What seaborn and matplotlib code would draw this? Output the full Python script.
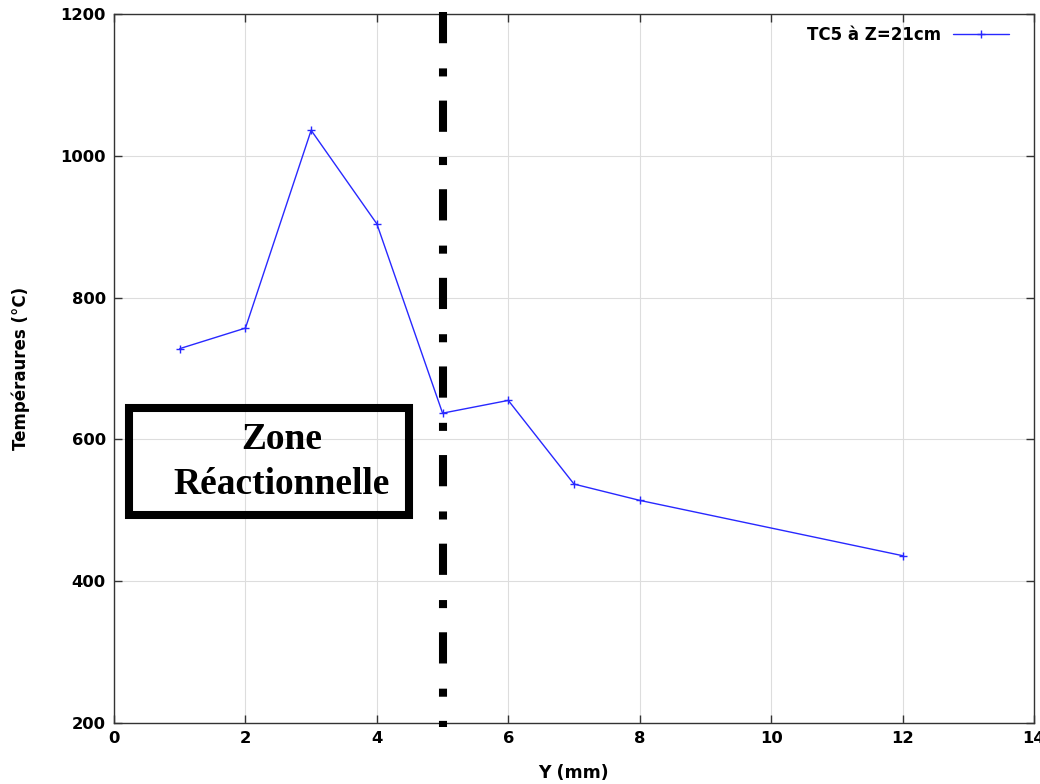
import matplotlib
matplotlib.use("Agg")
import matplotlib.pyplot as plt
import seaborn as sns
import pandas as pd
from matplotlib.patches import Rectangle

# Temperature profile along Y for thermocouple TC5
y_mm = [1, 2, 3, 4, 5, 6, 7, 8, 12]
temperatures = [728, 757, 1036, 904, 637, 655, 537, 514, 436]
series_label = "TC5 à Z=21cm"

x_ticks = [0, 2, 4, 6, 8, 10, 12, 14]
y_ticks = [200, 400, 600, 800, 1000, 1200]
boundary_y = 5

df = pd.DataFrame({"Y": y_mm, "T": temperatures})

sns.set_theme(style="white")
plt.rcParams["font.family"] = ["DejaVu Sans"]
plt.rcParams["text.color"] = "black"
plt.rcParams["xtick.color"] = "black"
plt.rcParams["ytick.color"] = "black"
plt.rcParams["axes.labelcolor"] = "black"

fig = plt.figure(figsize=(10.4, 7.84), dpi=100)
ax = fig.add_axes([114 / 1040, 1 - 723 / 784, 920 / 1040, 709 / 784])

sns.lineplot(data=df, x="Y", y="T", ax=ax, color="#2828ff", linewidth=1.0,
             marker="+", markersize=5.5, markeredgewidth=1.0,
             markeredgecolor="#2828ff", label=series_label)

ax.set_xlim(0, 14)
ax.set_ylim(200, 1200)
ax.set_xticks(x_ticks)
ax.set_yticks(y_ticks)
ax.grid(True, color="#dddddd", linewidth=0.8)
ax.set_axisbelow(True)

for s in ax.spines.values():
    s.set_color("#333333")
    s.set_linewidth(1.0)

ax.tick_params(axis="both", which="major", direction="in", length=6, width=1,
               color="#333333", labelcolor="black", top=True, right=True,
               bottom=True, left=True, labelsize=11.8, pad=6)
for lab in ax.get_xticklabels() + ax.get_yticklabels():
    lab.set_fontweight("bold")

ax.set_xlabel("Y (mm)", fontsize=12.5, fontweight="bold", color="black")
ax.xaxis.set_label_coords(0.5, -0.058)
ax.set_ylabel("Tempéraures (°C)", fontsize=12, fontweight="bold", color="black")
ax.yaxis.set_label_coords(-0.091, 0.5)

# Boundary of the reaction zone
ax.plot([boundary_y, boundary_y], [1203, 194], color="black", linewidth=5.8,
        linestyle=(0, (31 / 8, 25 / 8, 8 / 8, 24 / 8)), clip_on=False,
        solid_capstyle="butt", dash_capstyle="butt", zorder=5)

# Boxed annotation for the reaction zone
box = Rectangle((0.23, 493), 4.26, 151, fill=False, edgecolor="black",
                linewidth=5.8, zorder=6)
ax.add_patch(box)
ax.text(2.55, 600, "Zone", ha="center", va="center", color="black",
        family="Liberation Serif", fontweight="bold", fontsize=27, zorder=7)
ax.text(2.55, 536, "Réactionnelle", ha="center", va="center", color="black",
        family="Liberation Serif", fontweight="bold", fontsize=27, zorder=7)

leg = ax.legend(loc="upper right", frameon=False, markerfirst=False,
                handlelength=3.4, handletextpad=0.7,
                bbox_to_anchor=(0.986, 1.0), borderaxespad=0.3,
                prop={"weight": "bold", "size": 12})
for t in leg.get_texts():
    t.set_color("black")

fig.savefig("out.png", dpi=100)
